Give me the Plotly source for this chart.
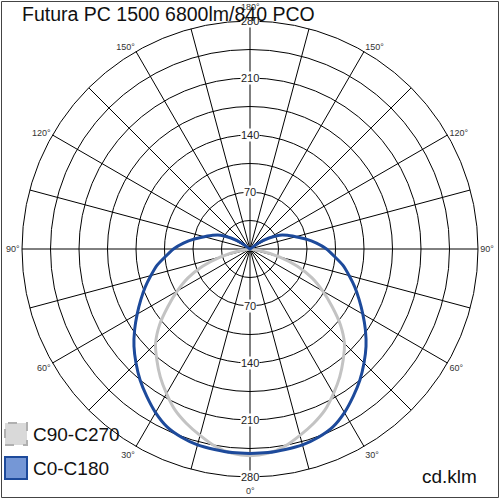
import plotly.graph_objects as go

# ---- data ----
title_text = "Futura PC 1500 6800lm/840 PCO"
unit_text = "cd.klm"
series_names = ["C90-C270", "C0-C180"]

angles = [0, 5, 10, 15, 20, 25, 30, 35, 40, 45, 50, 55, 60, 65, 70, 75, 80, 85, 90,
          95, 100, 105, 110, 115, 120, 125, 130, 135, 140, 150, 160, 170, 180]
c90_c270 = [254, 252, 246, 237, 228, 218, 205, 192, 178, 164, 145, 123, 103, 84, 62, 38, 14, 0, 0,
            0, 0, 0, 0, 0, 0, 0, 0, 0, 0, 0, 0, 0, 0]
c0_c180 = [251, 251, 250, 249, 246, 241, 232, 221, 210, 198, 186, 173, 160, 148, 137, 126, 116, 104, 94,
           82, 70, 58, 49, 40, 27, 13, 0, 0, 0, 0, 0, 0, 0]

ring_values = [35, 70, 105, 140, 175, 210, 245, 280]
ring_labels = [70, 140, 210, 280]
spoke_angles = list(range(0, 360, 15))
label_angles = [30, 60, 90, 120, 150]
end_labels = ["0°", "180°"]
r_max = 280

# ---- geometry helpers (layout only) ----
W = H = 500
CX, CY, R = 250, 249, 228


def px(x):
    return x / W


def py(y):
    return 1 - y / H


def mirror(a, v):
    th = [-t for t in reversed(a)] + a[1:]
    rr = list(reversed(v)) + v[1:]
    return th, rr


fig = go.Figure()

colors = ["#c3c3c3", "#1d4a9b"]
for name, vals, col in zip(series_names, [c90_c270, c0_c180], colors):
    th, rr = mirror(angles, vals)
    fig.add_trace(go.Scatterpolar(
        r=rr, theta=th, mode="lines", name=name,
        line=dict(color=col, width=3, shape="spline", smoothing=0.6),
        showlegend=False, hoverinfo="skip"))


def ang_label(t):
    tt = t if t <= 180 else 360 - t
    return f"{tt}°" if tt in label_angles else ""


fig.update_layout(
    width=W, height=H,
    margin=dict(l=0, r=0, t=0, b=0),
    paper_bgcolor="white",
    font=dict(family="Liberation Sans, Arial, sans-serif", color="#000"),
    polar=dict(
        domain=dict(x=[px(CX - R), px(CX + R)], y=[py(CY + R), py(CY - R)]),
        bgcolor="white",
        angularaxis=dict(
            rotation=270, direction="clockwise",
            tickmode="array", tickvals=spoke_angles,
            ticktext=[ang_label(t) for t in spoke_angles],
            showline=True, linecolor="#000", linewidth=1,
            showgrid=True, gridcolor="#000", gridwidth=1,
            ticks="", tickfont=dict(size=9, color="#333"),
        ),
        radialaxis=dict(
            range=[0, r_max], tickmode="array", tickvals=ring_values,
            showticklabels=False, ticks="", showline=False,
            showgrid=True, gridcolor="#000", gridwidth=1,
        ),
    ),
)

annotations = []
k = R / r_max
# end angle labels (0° bottom, 180° top), just outside the outer ring
for txt, sgn in zip(end_labels, (1, -1)):
    annotations.append(dict(
        x=px(CX), y=py(CY + sgn * (R + 14)), xref="paper", yref="paper",
        text=txt, showarrow=False, font=dict(size=9, color="#333"),
        xanchor="center", yanchor="middle"))

for v in ring_labels:
    for sgn in (-1, 1):
        annotations.append(dict(
            x=px(CX), y=py(CY + sgn * v * k), xref="paper", yref="paper",
            text=str(v), showarrow=False, font=dict(size=11, color="#222"),
            bgcolor="white", borderpad=0, xanchor="center", yanchor="middle"))

annotations.append(dict(x=px(20), y=py(1), xref="paper", yref="paper", text=title_text,
                        showarrow=False, xanchor="left", yanchor="top",
                        font=dict(size=19.5, color="#111")))
annotations.append(dict(x=px(479), y=py(476), xref="paper", yref="paper", text=unit_text,
                        showarrow=False, xanchor="right", yanchor="middle",
                        font=dict(size=19, color="#111")))
legend_y = [434, 468]
for name, yy in zip(series_names, legend_y):
    annotations.append(dict(x=px(31), y=py(yy), xref="paper", yref="paper", text=name,
                            showarrow=False, xanchor="left", yanchor="middle",
                            font=dict(size=19, color="#111")))

shapes = [
    dict(type="rect", xref="paper", yref="paper", x0=px(5), x1=px(27), y0=py(445), y1=py(423),
         fillcolor="#d9d9d9", line=dict(color="#b0b0b0", width=2, dash="dash")),
    dict(type="rect", xref="paper", yref="paper", x0=px(5), x1=px(27), y0=py(479), y1=py(457),
         fillcolor="#7597d6", line=dict(color="#1d4a9b", width=2)),
    dict(type="rect", xref="paper", yref="paper", x0=px(1.5), x1=px(498.5), y0=py(497.5), y1=py(1.5),
         line=dict(color="#444", width=1)),
]

fig.update_layout(annotations=annotations, shapes=shapes)
fig.write_html("out.html", config={"displayModeBar": False},
               post_script="document.body.style.margin='0';document.body.style.overflow='hidden';")
